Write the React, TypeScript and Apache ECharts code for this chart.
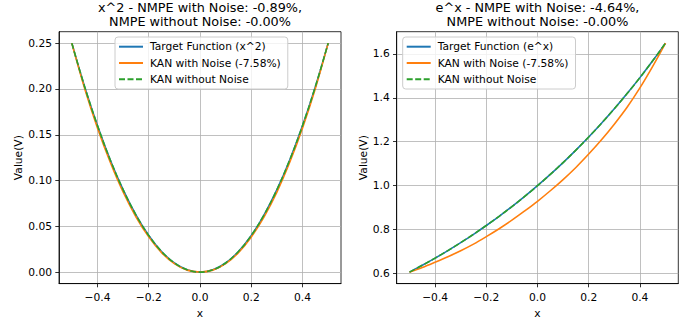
import React, { useEffect, useRef } from "react";
import * as echarts from "echarts";

const xValues = [-0.5, -0.45, -0.4, -0.35, -0.3, -0.25, -0.2, -0.15, -0.1, -0.05, 0, 0.05, 0.1, 0.15, 0.2, 0.25, 0.3, 0.35, 0.4, 0.45, 0.5];

const squareTarget = [0.25, 0.2025, 0.16, 0.1225, 0.09, 0.0625, 0.04, 0.0225, 0.01, 0.0025, 0, 0.0025, 0.01, 0.0225, 0.04, 0.0625, 0.09, 0.1225, 0.16, 0.2025, 0.25];
const squareNoise = [0.25, 0.2005, 0.1575, 0.12, 0.0875, 0.0605, 0.0385, 0.0213, 0.0093, 0.0022, 0.0002, 0.0022, 0.0093, 0.0212, 0.0384, 0.0604, 0.0874, 0.1199, 0.1575, 0.2005, 0.25];
const squareClean = [0.25, 0.2025, 0.16, 0.1225, 0.09, 0.0625, 0.04, 0.0225, 0.01, 0.0025, 0, 0.0025, 0.01, 0.0225, 0.04, 0.0625, 0.09, 0.1225, 0.16, 0.2025, 0.25];

const expTarget = [0.6065, 0.6376, 0.6703, 0.7047, 0.7408, 0.7788, 0.8187, 0.8607, 0.9048, 0.9512, 1.0, 1.0513, 1.1052, 1.1618, 1.2214, 1.284, 1.3499, 1.4191, 1.4918, 1.5683, 1.6487];
const expNoise = [0.6065, 0.628, 0.652, 0.677, 0.704, 0.734, 0.768, 0.804, 0.843, 0.885, 0.929, 0.977, 1.028, 1.083, 1.144, 1.209, 1.28, 1.357, 1.445, 1.543, 1.6487];
const expClean = [0.6065, 0.6376, 0.6703, 0.7047, 0.7408, 0.7788, 0.8187, 0.8607, 0.9048, 0.9512, 1.0, 1.0513, 1.1052, 1.1618, 1.2214, 1.284, 1.3499, 1.4191, 1.4918, 1.5683, 1.6487];

const xTicks = [-0.4, -0.2, 0, 0.2, 0.4];
const squareTicks = [0, 0.05, 0.1, 0.15, 0.2, 0.25];
const expTicks = [0.6, 0.8, 1.0, 1.2, 1.4, 1.6];

const titleLeft = "x^2 - NMPE with Noise: -0.89%,\nNMPE without Noise: -0.00%";
const titleRight = "e^x - NMPE with Noise: -4.64%,\nNMPE without Noise: -0.00%";
const nameTargetSq = "Target Function (x^2)";
const nameTargetExp = "Target Function (e^x)";
const nameNoise = "KAN with Noise (-7.58%)";
const nameClean = "KAN without Noise";

const FONT = "DejaVu Sans";
const BLUE = "#1f77b4";
const ORANGE = "#ff7f0e";
const GREEN = "#2ca02c";

const fmt = (v: number, d: number) => {
  const s = Math.abs(v).toFixed(d);
  return v < -1e-9 ? "\u2212" + s : s;
};

const pairs = (ys: number[]) => xValues.map((x, i) => [x, ys[i]]);

export default function App() {
  const ref = useRef<HTMLDivElement>(null);
  useEffect(() => {
    if (!ref.current) return;
    const chart = echarts.init(ref.current, undefined, { renderer: "svg" });
    const grids = [
      { left: 59, top: 31.7, width: 282, height: 254.3 },
      { left: 396.7, top: 31.7, width: 281.6, height: 254.3 },
    ];
    const xAxisBase = (gi: number) => ({
      type: "value",
      gridIndex: gi,
      min: -0.55,
      max: 0.55,
      name: "x",
      nameLocation: "middle",
      nameGap: 22,
      nameTextStyle: { fontFamily: FONT, fontSize: 10.7, color: "#000" },
      axisLine: { show: true, onZero: false, lineStyle: { color: "#000", width: 0.8 } },
      axisTick: { show: true, length: 3.7, customValues: xTicks, lineStyle: { color: "#000", width: 0.8 } },
      axisLabel: { customValues: xTicks, margin: 8.5, fontFamily: FONT, fontSize: 10.7, color: "#000", formatter: (v: number) => fmt(v, 1) },
      splitLine: { show: true, lineStyle: { color: "#b0b0b0", width: 0.8 } },
    });
    const yAxisBase = (gi: number, min: number, max: number, ticks: number[], dec: number) => ({
      type: "value",
      gridIndex: gi,
      min,
      max,
      name: "Value(V)",
      nameLocation: "middle",
      nameGap: gi === 0 ? 35 : 17.5,
      nameTextStyle: { fontFamily: FONT, fontSize: 10.7, color: "#000" },
      axisLine: { show: true, onZero: false, lineStyle: { color: "#000", width: 0.8 } },
      axisTick: { show: true, length: 3.7, customValues: ticks, lineStyle: { color: "#000", width: 0.8 } },
      axisLabel: { customValues: ticks, margin: 7, fontFamily: FONT, fontSize: 10.7, color: "#000", formatter: (v: number) => fmt(v, dec) },
      splitLine: { show: true, lineStyle: { color: "#b0b0b0", width: 0.8 } },
    });
    const legendBase = (left: number, names: string[]) => ({
      orient: "vertical",
      left,
      top: 37,
      padding: [2.7, 7, 2.7, 3],
      itemWidth: 24,
      itemHeight: 14,
      itemGap: 2.3,
      backgroundColor: "rgba(255,255,255,0.8)",
      borderColor: "#cccccc",
      borderWidth: 1,
      borderRadius: 3,
      itemStyle: { color: "rgba(0,0,0,0)", borderWidth: 0, opacity: 0 },
      textStyle: { fontFamily: FONT, fontSize: 10.7, lineHeight: 14, color: "#000", padding: [0, 0, 0, 2] },
      data: names,
      selectedMode: false,
    });
    const line = (name: string, gi: number, ys: number[], color: string, dashed = false) => ({
      type: "line",
      name,
      xAxisIndex: gi,
      yAxisIndex: gi,
      data: pairs(ys),
      symbol: "none",
      showSymbol: false,
      smooth: 0.35,
      lineStyle: { color, width: 1.6, type: dashed ? [6, 2.5] : "solid" },
      itemStyle: { color },
      emphasis: { disabled: true },
    });
    chart.setOption({
      animation: false,
      backgroundColor: "#fff",
      title: [
        { text: titleLeft, left: 200, top: 0, textAlign: "center", padding: 0, textStyle: { fontFamily: FONT, fontSize: 12.8, fontWeight: "normal", color: "#000", lineHeight: 14.5 } },
        { text: titleRight, left: 537.5, top: 0, textAlign: "center", padding: 0, textStyle: { fontFamily: FONT, fontSize: 12.8, fontWeight: "normal", color: "#000", lineHeight: 14.5 } },
      ],
      grid: grids.map((g) => ({ ...g, show: true, borderColor: "#000", borderWidth: 0.8, backgroundColor: "transparent", containLabel: false })),
      xAxis: [xAxisBase(0), xAxisBase(1)],
      yAxis: [
        yAxisBase(0, -0.0125, 0.2625, squareTicks, 2),
        yAxisBase(1, 0.5544, 1.7008, expTicks, 1),
      ],
      legend: [
        legendBase(115, [nameTargetSq, nameNoise, nameClean]),
        legendBase(402.7, [nameTargetExp, nameNoise, nameClean]),
      ],
      series: [
        line(nameTargetSq, 0, squareTarget, BLUE),
        line(nameNoise, 0, squareNoise, ORANGE),
        line(nameClean, 0, squareClean, GREEN, true),
        line(nameTargetExp, 1, expTarget, BLUE),
        line(nameNoise, 1, expNoise, ORANGE),
        line(nameClean, 1, expClean, GREEN, true),
      ],
    });
    return () => chart.dispose();
  }, []);
  return <div ref={ref} style={{ position: "fixed", left: 0, top: 0, width: 692, height: 324, background: "#fff" }} />;
}
